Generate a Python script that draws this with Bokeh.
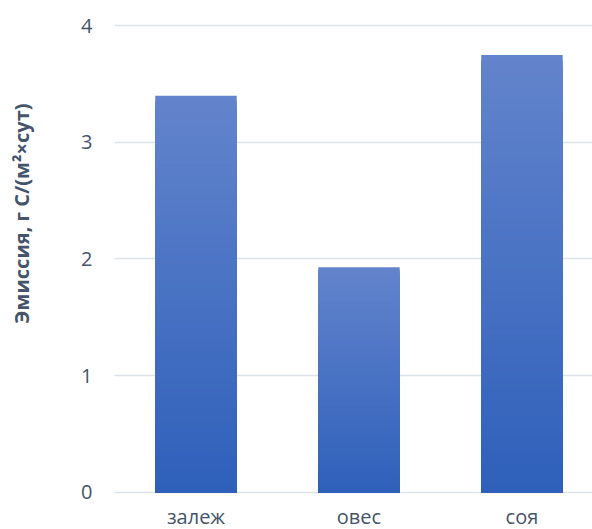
import numpy as np
from bokeh.plotting import figure
from bokeh.models import Range1d, FixedTicker, ColumnDataSource, Title
from bokeh.embed import file_html
from bokeh.resources import INLINE

categories = ["залеж", "овес", "соя"]
values = [3.40, 1.93, 3.75]
y_ticks = [0, 1, 2, 3, 4]
y_title = "Эмиссия, г С/(м²×сут)"

TEXT = "#44546A"
FONT = "Open Sans"
top_rgb = np.array([0x63, 0x84, 0xCC])
bot_rgb = np.array([0x2E, 0x60, 0xBA])

p = figure(frame_width=478, frame_height=478, min_border_left=114, min_border_right=0,
           min_border_top=16, min_border_bottom=35,
           output_backend="svg", toolbar_location=None,
           x_range=Range1d(-0.5, 2.433), y_range=Range1d(-0.02, 4.08))

# gradient bars: nested bars from full height down, each shorter one darker
N = 80
xs, tops, colors = [], [], []
for k in range(N):
    frac = 1 - k / N  # 1 -> small
    for i, v in enumerate(values):
        t = frac - 0.5 / N
        c = bot_rgb + (top_rgb - bot_rgb) * t
        xs.append(i)
        tops.append(v * frac)
        colors.append("#%02x%02x%02x" % tuple(int(round(x)) for x in c))
src = ColumnDataSource(dict(x=xs, top=tops, color=colors))
p.vbar(x="x", bottom=0, top="top", width=0.5, fill_color="color",
       line_color=None, source=src)

p.outline_line_color = None
p.background_fill_color = "white"
p.border_fill_color = "white"

p.xgrid.grid_line_color = None
p.ygrid.grid_line_color = "#DDE2E8"
p.ygrid.grid_line_width = 1.5
p.ygrid.ticker = FixedTicker(ticks=y_ticks)

p.xaxis.ticker = FixedTicker(ticks=list(range(len(categories))))
p.xaxis.major_label_overrides = {i: c for i, c in enumerate(categories)}
p.yaxis.ticker = FixedTicker(ticks=y_ticks)
for ax in (p.xaxis, p.yaxis):
    ax.axis_line_color = None
    ax.major_tick_line_color = None
    ax.minor_tick_line_color = None
    ax.major_tick_out = 0
    ax.major_tick_in = 0
    ax.major_label_text_color = TEXT
    ax.major_label_text_font = FONT
    ax.major_label_text_font_size = "20px"
p.xaxis.major_label_standoff = 8
p.yaxis.major_label_standoff = 22
# blank spacer label to widen the axis panel
p.yaxis.axis_label = "\u00a0"
p.yaxis.axis_label_text_font_size = "20px"
p.yaxis.axis_label_standoff = 14

ttl = Title(text=y_title, align="right", offset=87, standoff=10,
            text_font=FONT, text_font_style="bold", text_font_size="20px",
            text_color=TEXT)
p.add_layout(ttl, "left")

open("out.html", "w").write(file_html(p, INLINE))
